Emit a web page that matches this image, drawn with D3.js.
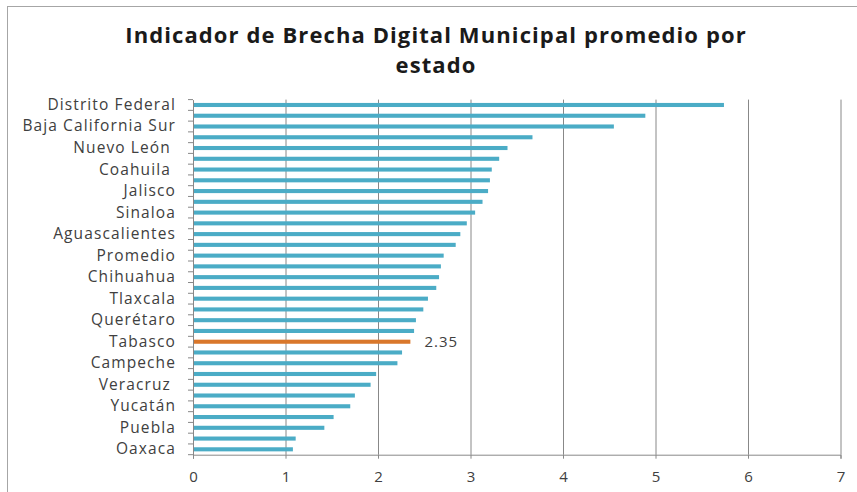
<!DOCTYPE html>
<html>
<head>
<meta charset="utf-8">
<script src="https://cdn.jsdelivr.net/npm/d3@7"></script>
<style>
  body { margin: 0; background: #fff; }
  text { font-family: "Open Sans", sans-serif; }
</style>
</head>
<body>
<svg id="chart" width="857" height="492"></svg>
<script>
// States ordered as in the chart (top to bottom); only every other one is labelled
const estados = [
  'Distrito Federal', 'Baja California', 'Baja California Sur', 'Sonora',
  'Nuevo León ', 'Colima', 'Coahuila ', 'Tamaulipas', 'Jalisco', 'Quintana Roo',
  'Sinaloa', 'México', 'Aguascalientes', 'Morelos', 'Promedio', 'Nayarit',
  'Chihuahua', 'Durango', 'Tlaxcala', 'Zacatecas', 'Querétaro', 'San Luis Potosí',
  'Tabasco', 'Hidalgo', 'Campeche', 'Guanajuato', 'Veracruz ', 'Michoacán',
  'Yucatán', 'Guerrero', 'Puebla', 'Chiapas', 'Oaxaca'
];
const indicador = [
  5.74, 4.89, 4.55, 3.67, 3.40, 3.31, 3.23, 3.21, 3.19, 3.13, 3.05,
  2.96, 2.89, 2.84, 2.71, 2.68, 2.66, 2.63, 2.54, 2.49, 2.41, 2.39,
  2.35, 2.26, 2.21, 1.98, 1.92, 1.75, 1.70, 1.52, 1.42, 1.11, 1.08
];
const xTicks = [0, 1, 2, 3, 4, 5, 6, 7];
const destacado = 'Tabasco';

const data = estados.map((e, i) => ({ estado: e, valor: indicador[i] }));

const svg = d3.select('#chart');

// outer chart border (Excel chart area)
svg.append('rect')
  .attr('x', 7.5).attr('y', 6.5)
  .attr('width', 900).attr('height', 600)
  .style('fill', 'none')
  .style('stroke', '#a6a6a6');

const x = d3.scaleLinear().domain([0, 7]).range([193, 840.5]);
const y = d3.scaleBand()
  .domain(estados)
  .range([99.6, 454.7])
  .paddingInner(0.62)
  .paddingOuter(0.31);

const yTop = y.range()[0], yBottom = y.range()[1];

// vertical gridlines
svg.append('g')
  .attr('transform', `translate(0,${yBottom})`)
  .call(d3.axisBottom(x).tickValues(xTicks.slice(1)).tickSize(-(yBottom - yTop)).tickFormat(''))
  .call(g => g.select('.domain').remove())
  .call(g => g.selectAll('line').style('stroke', '#888'));

// bars
svg.append('g')
  .selectAll('rect')
  .data(data)
  .join('rect')
  .attr('x', x(0))
  .attr('y', d => y(d.estado))
  .attr('width', d => x(d.valor) - x(0))
  .attr('height', y.bandwidth())
  .style('fill', d => d.estado === destacado ? '#d9772b' : '#4bacc6');

// data label for highlighted state
const tab = data.find(d => d.estado === destacado);
svg.append('text')
  .attr('x', x(tab.valor) + 14)
  .attr('y', y(tab.estado) + y.bandwidth() / 2)
  .attr('dy', '0.35em')
  .style('font-size', '15px')
  .style('letter-spacing', '1px')
  .style('fill', '#404040')
  .text(d3.format('.2f')(tab.valor));

// x axis
const xAxis = svg.append('g')
  .attr('transform', `translate(0,${yBottom})`)
  .call(d3.axisBottom(x).tickValues(xTicks).tickSize(4).tickPadding(13).tickFormat(d3.format('d')));
xAxis.select('.domain').style('stroke', '#888');
xAxis.selectAll('line').style('stroke', '#888');
xAxis.selectAll('text')
  .style('font-size', '15px')
  .style('fill', '#404040')
  .style('font-family', '"Open Sans", sans-serif');

// y axis: labels on every other category, ticks on category boundaries
const yAxis = svg.append('g')
  .attr('transform', `translate(${x(0)},0)`)
  .call(d3.axisLeft(y).tickSize(0).tickPadding(17)
    .tickFormat((d, i) => i % 2 === 0 ? d : ''));
yAxis.select('.domain').style('stroke', '#888');
yAxis.selectAll('text')
  .style('font-size', '15.5px')
  .style('letter-spacing', '1.1px')
  .style('white-space', 'pre')
  .style('fill', '#404040')
  .style('font-family', '"Open Sans", sans-serif');

const step = y.step();
const bounds = d3.range(estados.length + 1).map(i => yTop + i * step);
yAxis.selectAll('.bound')
  .data(bounds)
  .join('line')
  .attr('class', 'bound')
  .attr('x1', -5).attr('x2', 0)
  .attr('y1', d => d).attr('y2', d => d)
  .style('stroke', '#888');

// title
const title = svg.append('text')
  .attr('x', 436)
  .attr('y', 43)
  .attr('text-anchor', 'middle')
  .style('font-size', '22px')
  .style('font-weight', 'bold')
  .style('letter-spacing', '1.1px')
  .style('fill', '#1a1a1a');
title.append('tspan').attr('x', 436).text('Indicador de Brecha Digital Municipal promedio por');
title.append('tspan').attr('x', 436).attr('dy', 30).text('estado');
</script>
</body>
</html>
